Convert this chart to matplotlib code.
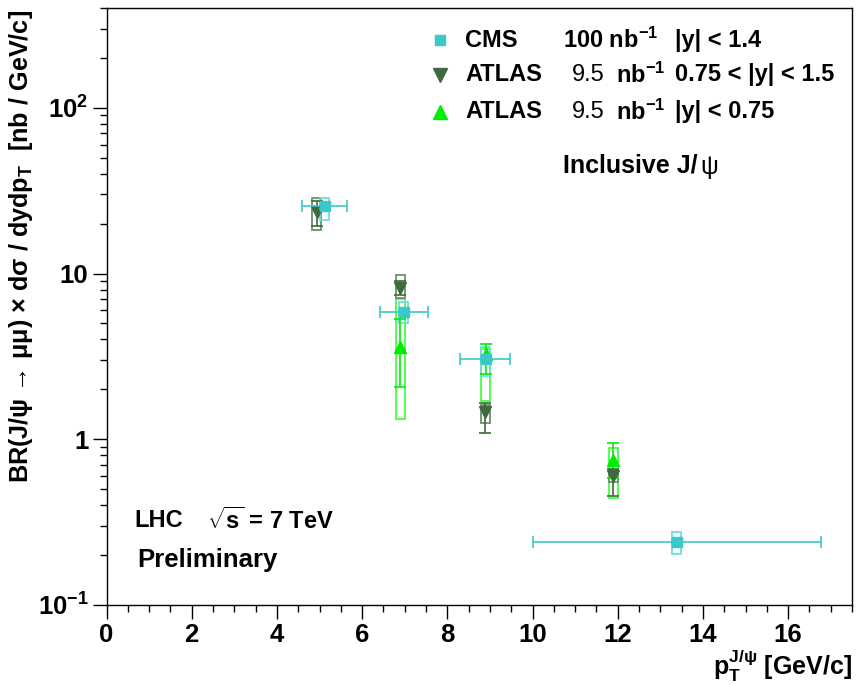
import numpy as np
import matplotlib
matplotlib.use("Agg")
import matplotlib.pyplot as plt
from matplotlib.patches import Rectangle
from matplotlib.lines import Line2D
from matplotlib.ticker import FixedLocator, FixedFormatter, MultipleLocator, NullFormatter

plt.rcParams['font.family'] = ['Liberation Sans', 'DejaVu Sans']
plt.rcParams['font.weight'] = 'bold'
plt.rcParams['mathtext.fontset'] = 'custom'
plt.rcParams['mathtext.rm'] = 'Liberation Sans:bold'
plt.rcParams['mathtext.bf'] = 'Liberation Sans:bold'
plt.rcParams['mathtext.it'] = 'Liberation Sans:bold'
plt.rcParams['mathtext.sf'] = 'Liberation Sans:bold'

# ---------------- data ----------------
cms_pt = [5.12, 6.98, 8.90, 13.39]
cms_pt_lo = [4.58, 6.43, 8.30, 10.0]
cms_pt_hi = [5.64, 7.54, 9.48, 16.78]
cms_y = [25.5, 5.83, 3.07, 0.240]
cms_stat_lo = [24.5, 5.6, 2.95, 0.232]
cms_stat_hi = [26.5, 6.05, 3.2, 0.248]
cms_sys_lo = [21.0, 5.0, 2.4, 0.203]
cms_sys_hi = [28.5, 6.7, 3.58, 0.275]

atf_pt = [4.93, 6.90, 8.89, 11.90]          # ATLAS 0.75<|y|<1.5
atf_y = [23.6, 8.2, 1.47, 0.60]
atf_stat_lo = [19.4, 7.4, 1.09, 0.455]
atf_stat_hi = [27.5, 9.0, 1.65, 0.66]
atf_sys_lo = [18.4, 7.1, 1.25, 0.55]
atf_sys_hi = [28.7, 9.8, 1.61, 0.65]

atc_pt = [6.90, 8.90, 11.90]                 # ATLAS |y|<0.75
atc_y = [3.58, 3.25, 0.75]
atc_stat_lo = [2.06, 2.46, 0.58]
atc_stat_hi = [5.3, 3.78, 0.95]
atc_sys_lo = [1.32, 1.69, 0.44]
atc_sys_hi = [7.0, 3.5, 0.88]

ytick_vals = [0.1, 1, 10, 100]
ytick_labels = [r"$\mathregular{10^{-1}}$", "1", "10", r"$\mathregular{10^{2}}$"]

c_cms = '#3cc8c8'
c_cms_box = '#6fdcdc'
c_atf = '#3d6b3d'
c_atf_box = '#6f8f6f'
c_atc = '#00ee00'
c_atc_box = '#44ff44'

TXT = 17

# ---------------- figure ----------------
fig = plt.figure(figsize=(8.56, 6.85), dpi=100)
ax = fig.add_axes([106.5/856, 80/685, 745.5/856, 597/685])
ax.set_yscale('log')
ax.set_xlim(0, 17.5)
ax.set_ylim(0.1, 400)

bw = 0.105  # half-width of systematic boxes

def boxes(xs, lo, hi, col, z):
    for x, l, h in zip(xs, lo, hi):
        ax.add_patch(Rectangle((x - bw, l), 2 * bw, h - l, fill=False,
                               edgecolor=col, lw=1.3, zorder=z))

boxes(atc_pt, atc_sys_lo, atc_sys_hi, c_atc_box, 2)
boxes(atf_pt, atf_sys_lo, atf_sys_hi, c_atf_box, 2)
boxes(cms_pt, cms_sys_lo, cms_sys_hi, c_cms_box, 2)

def ebar(xs, y, lo, hi, col, z, xlo=None, xhi=None, marker='o', ms=8):
    y = np.array(y)
    yerr = [y - np.array(lo), np.array(hi) - y]
    xerr = None
    if xlo is not None:
        xs_a = np.array(xs)
        xerr = [xs_a - np.array(xlo), np.array(xhi) - xs_a]
    ax.errorbar(xs, y, yerr=yerr, xerr=xerr, fmt=marker, color=col, ms=ms,
                mec=col, mfc=col, ecolor=col, elinewidth=1.2, capsize=4,
                capthick=1.2, zorder=z)

ebar(atc_pt, atc_y, atc_stat_lo, atc_stat_hi, c_atc, 3, marker='^', ms=9)
ebar(atf_pt, atf_y, atf_stat_lo, atf_stat_hi, c_atf, 4, marker='v', ms=9)
ebar(cms_pt, cms_y, cms_stat_lo, cms_stat_hi, c_cms, 5, xlo=cms_pt_lo, xhi=cms_pt_hi,
     marker='s', ms=6.5)

# ---------------- axes styling ----------------
for s in ax.spines.values():
    s.set_linewidth(1.0)
    s.set_color('black')
ax.xaxis.set_major_locator(MultipleLocator(2))
ax.xaxis.set_minor_locator(MultipleLocator(0.5))
ax.yaxis.set_major_locator(FixedLocator(ytick_vals))
ax.yaxis.set_major_formatter(FixedFormatter(ytick_labels))
ax.yaxis.set_minor_formatter(NullFormatter())
ax.tick_params(axis='both', which='major', direction='out', length=10, width=1.0,
               labelsize=18.5, pad=3)
ax.tick_params(axis='both', which='minor', direction='out', length=5, width=1.0)
ax.tick_params(top=False, right=False)
for lab in ax.get_xticklabels() + ax.get_yticklabels():
    lab.set_fontweight('bold')

ax.set_ylabel(r"BR(J/ψ → μμ) × dσ / dydp$_\mathregular{T}$  [nb / GeV/c]",
              fontsize=18.2, fontweight='bold')
ax.yaxis.set_label_coords(-0.096, 0.6)
ax.set_xlabel(r"p$_\mathregular{T}^\mathregular{J/ψ}$ [GeV/c]", fontsize=18,
              fontweight='bold', loc='right', labelpad=0)

# ---------------- legend (manual) ----------------
rows = [0.946, 0.888, 0.826]
leg_marks = [('s', c_cms, 7), ('v', c_atf, 10), ('^', c_atc, 10)]
names = ['CMS', 'ATLAS', 'ATLAS']
ranges = ['|y| < 1.4', '0.75 < |y| < 1.5', '|y| < 0.75']
for yy, (m, c, ms), nm, rg in zip(rows, leg_marks, names, ranges):
    ax.add_line(Line2D([0.447], [yy], marker=m, color=c, ms=ms, ls='none',
                       transform=ax.transAxes, zorder=6))
    ax.text(0.481, yy, nm, transform=ax.transAxes, fontsize=TXT, fontweight='bold',
            va='center', ha='left')
    ax.text(0.763, yy, rg, transform=ax.transAxes, fontsize=TXT, fontweight='bold',
            va='center', ha='left')
ax.text(0.612, rows[0], r"100 nb$^\mathregular{-1}$", transform=ax.transAxes,
        fontsize=TXT, fontweight='bold', va='center', ha='left')
for yy in rows[1:]:
    ax.text(0.624, yy, "9.5", transform=ax.transAxes, fontsize=TXT,
            fontweight='normal', va='center', ha='left')
    ax.text(0.684, yy, r"nb$^\mathregular{-1}$", transform=ax.transAxes,
            fontsize=TXT, fontweight='bold', va='center', ha='left')

ax.text(0.612, 0.737, "Inclusive J/", transform=ax.transAxes, fontsize=18,
        fontweight='bold', va='center', ha='left')
ax.text(0.796, 0.733, "ψ", transform=ax.transAxes, fontsize=18,
        fontweight='normal', va='center', ha='left')

ax.text(0.038, 0.142, "LHC", transform=ax.transAxes, fontsize=TXT,
        fontweight='bold', va='center', ha='left')
ax.text(0.135, 0.142, r"$\sqrt{\mathregular{s}}$ = 7 TeV", transform=ax.transAxes,
        fontsize=TXT, fontweight='bold', va='center', ha='left')
ax.text(0.041, 0.075, "Preliminary", transform=ax.transAxes, fontsize=18.5,
        fontweight='bold', va='center', ha='left')

fig.savefig('out.png', dpi=100)
